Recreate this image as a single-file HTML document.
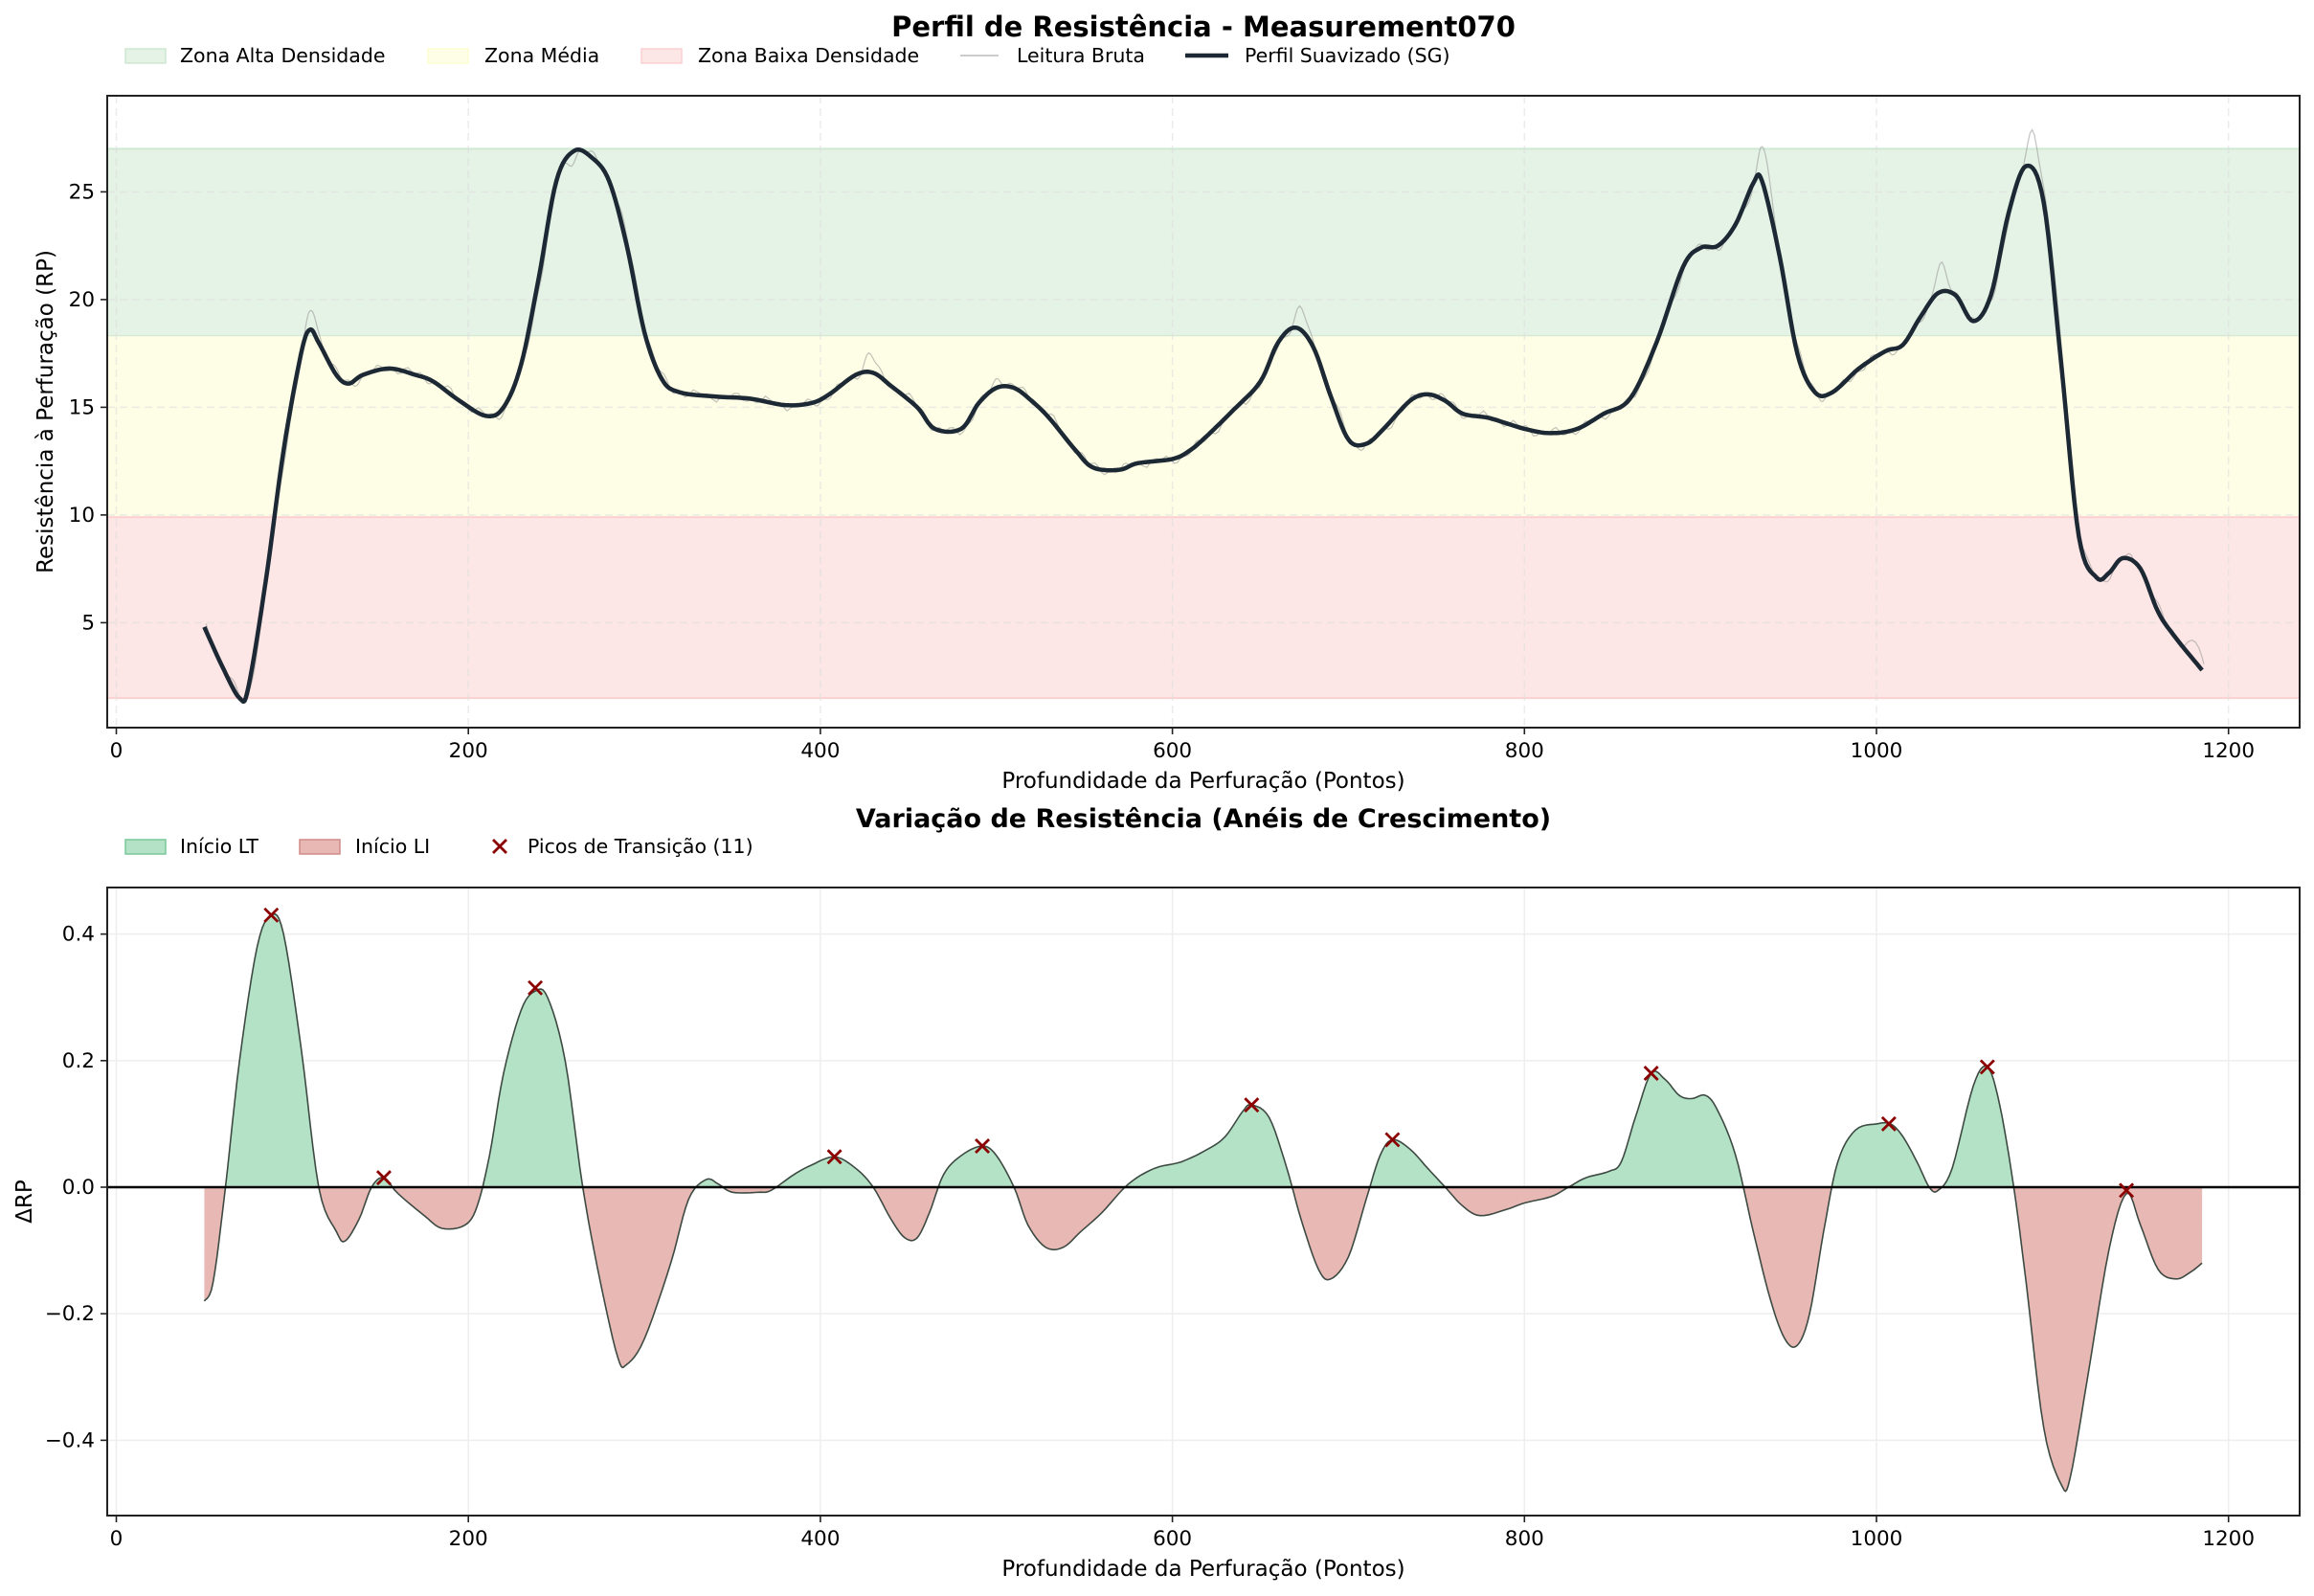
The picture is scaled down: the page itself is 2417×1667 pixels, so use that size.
<!DOCTYPE html>
<html><head><meta charset="utf-8"><style>
html,body{margin:0;padding:0;background:#fff}
svg{display:block;font-family:"DejaVu Sans","Liberation Sans",sans-serif}
</style></head><body>
<svg id="s" width="2417" height="1667" viewBox="0 0 2417 1667" xmlns="http://www.w3.org/2000/svg">
<defs>
<clipPath id="ctop"><rect x="112" y="100" width="2290" height="660"/></clipPath>
<clipPath id="cpos"><rect x="112" y="927" width="2290" height="313"/></clipPath>
<clipPath id="cneg"><rect x="112" y="1240" width="2290" height="343"/></clipPath>
</defs>
<g id="g"></g>
</svg>
<script>
var g=document.getElementById('g');
function X(v){return 121.5+v*1.8385;}
function YT(v){return 200.4+(25-v)*22.5;}
function YB(v){return 1240-v*660.9;}
var h='';
h+='<rect x="112" y="'+YT(27)+'" width="2290" height="'+(YT(18.3)-YT(27))+'" fill="#e5f2e6" stroke="#cfe8d2" stroke-width="2"/>';
h+='<rect x="112" y="'+YT(18.3)+'" width="2290" height="'+(YT(9.9)-YT(18.3))+'" fill="#fefee6"/>';
h+='<rect x="112" y="'+YT(9.9)+'" width="2290" height="'+(YT(1.5)-YT(9.9))+'" fill="#fde6e6" stroke="#fbd0d0" stroke-width="2"/>';
var xt=[0,200,400,600,800,1000,1200];
xt.forEach(function(t){h+='<line x1="'+X(t)+'" x2="'+X(t)+'" y1="100" y2="760" stroke="#ddd" stroke-opacity="0.6" stroke-dasharray="8,5" stroke-width="1.5"/>';});
[5,10,15,20,25].forEach(function(t){h+='<line x1="112" x2="2402" y1="'+YT(t)+'" y2="'+YT(t)+'" stroke="#ddd" stroke-opacity="0.6" stroke-dasharray="8,5" stroke-width="1.5"/>';});
xt.forEach(function(t){h+='<line x1="'+X(t)+'" x2="'+X(t)+'" y1="927" y2="1583" stroke="#eee" stroke-width="1.5"/>';});
[-0.4,-0.2,0.2,0.4].forEach(function(t){h+='<line x1="112" x2="2402" y1="'+YB(t)+'" y2="'+YB(t)+'" stroke="#eee" stroke-width="1.5"/>';});

function interp(P,step){var out=[];for(var i=0;i<P.length-1;i++){var p0=P[Math.max(0,i-1)],p1=P[i],p2=P[i+1],p3=P[Math.min(P.length-1,i+2)];
 for(var k=0;k<step;k++){var t=k/step,t2=t*t,t3=t2*t;
 var x=0.5*((2*p1[0])+(-p0[0]+p2[0])*t+(2*p0[0]-5*p1[0]+4*p2[0]-p3[0])*t2+(-p0[0]+3*p1[0]-3*p2[0]+p3[0])*t3);
 var y=0.5*((2*p1[1])+(-p0[1]+p2[1])*t+(2*p0[1]-5*p1[1]+4*p2[1]-p3[1])*t2+(-p0[1]+3*p1[1]-3*p2[1]+p3[1])*t3);
 out.push([x,y]);}}out.push(P[P.length-1]);return out;}

var T=[[50,4.8],[60,3],[70,1.5],[75,2],[85,7],[95,13],[105,17.5],[110,18.6],[115,18],[125,16.5],[132,16.1],[140,16.5],[155,16.8],[170,16.5],[180,16.2],[195,15.3],[210,14.6],[220,15],[230,17],[240,21],[250,25.5],[260,26.9],[270,26.6],[280,25.5],[290,22.5],[300,18.5],[310,16.3],[320,15.7],[340,15.5],[360,15.4],[380,15.1],[395,15.2],[405,15.6],[420,16.5],[430,16.6],[440,16],[455,15],[465,14],[480,14],[490,15.2],[500,15.9],[510,15.9],[520,15.3],[530,14.5],[545,13],[555,12.2],[570,12.1],[580,12.4],[600,12.6],[610,13],[620,13.7],[635,14.9],[650,16.2],[660,18],[670,18.7],[680,17.8],[690,15.5],[700,13.5],[710,13.3],[720,14],[735,15.3],[745,15.6],[755,15.3],[765,14.7],[780,14.5],[800,14],[815,13.8],[830,14],[845,14.7],[860,15.4],[875,18],[890,21.5],[900,22.4],[910,22.5],[920,23.5],[930,25.4],[935,25.5],[945,22],[955,17.5],[965,15.7],[975,15.7],[990,16.8],[1005,17.6],[1015,17.9],[1025,19.2],[1035,20.3],[1045,20.2],[1055,19],[1065,20.2],[1075,24],[1085,26.2],[1095,24.5],[1105,17],[1115,9],[1125,7.1],[1132,7.3],[1140,8],[1150,7.5],[1160,5.5],[1170,4.3],[1185,2.8]];
var st=interp(T,8);
var bumps=[[110,0.9],[427,0.8],[500,0.5],[672,0.9],[935,1.5],[1035,1.3],[1088,1.8],[258,-0.3],[1180,0.8]];
var sm='',raw='';
st.forEach(function(p,i){sm+=(i?'L':'M')+X(p[0]).toFixed(1)+','+YT(p[1]).toFixed(1);
 var n=0.15*Math.sin(p[0]*0.31)+0.12*Math.sin(p[0]*0.77+1);
 bumps.forEach(function(b){var d=(p[0]-b[0])/4;n+=b[1]*Math.exp(-d*d);});
 raw+=(i?'L':'M')+X(p[0]+1).toFixed(1)+','+YT(p[1]+n).toFixed(1);});
h+='<path d="'+raw+'" fill="none" stroke="#999" stroke-opacity="0.6" stroke-width="1.2" clip-path="url(#ctop)"/>';
h+='<path d="'+sm+'" fill="none" stroke="#1c2833" stroke-width="4.5" stroke-linejoin="round"/>';

var B=[[50,-0.18],[55,-0.15],[62,0],[70,0.2],[80,0.38],[88,0.43],[95,0.4],[105,0.22],[115,0],[125,-0.07],[130,-0.085],[138,-0.05],[145,0],[152,0.015],[160,-0.01],[175,-0.045],[185,-0.065],[198,-0.06],[205,-0.03],[212,0.05],[220,0.18],[230,0.28],[238,0.31],[245,0.3],[255,0.2],[265,0],[275,-0.15],[285,-0.27],[290,-0.28],[300,-0.24],[315,-0.12],[325,-0.02],[335,0.012],[342,0.005],[350,-0.008],[365,-0.008],[372,-0.005],[385,0.02],[395,0.035],[408,0.048],[420,0.03],[430,0],[440,-0.05],[448,-0.08],[455,-0.08],[462,-0.04],[470,0.02],[480,0.05],[492,0.065],[500,0.05],[510,0],[518,-0.06],[528,-0.095],[538,-0.095],[548,-0.07],[560,-0.04],[575,0.005],[590,0.03],[605,0.04],[620,0.06],[630,0.08],[640,0.12],[645,0.13],[655,0.11],[665,0.03],[673,-0.05],[683,-0.13],[690,-0.145],[700,-0.11],[710,-0.02],[718,0.05],[725,0.075],[735,0.06],[745,0.03],[755,0],[765,-0.03],[775,-0.045],[790,-0.035],[800,-0.025],[815,-0.015],[825,0],[835,0.015],[848,0.025],[855,0.04],[863,0.11],[872,0.18],[880,0.17],[888,0.145],[895,0.14],[903,0.145],[910,0.12],[920,0.05],[930,-0.07],[940,-0.18],[948,-0.24],[955,-0.25],[962,-0.2],[970,-0.07],[978,0.04],[988,0.09],[1000,0.1],[1008,0.1],[1015,0.08],[1023,0.04],[1030,0],[1035,-0.005],[1043,0.03],[1055,0.16],[1063,0.19],[1070,0.13],[1078,0],[1085,-0.15],[1095,-0.38],[1105,-0.47],[1110,-0.46],[1120,-0.3],[1132,-0.1],[1142,-0.01],[1150,-0.06],[1160,-0.13],[1170,-0.145],[1178,-0.135],[1185,-0.12]];
var bt=interp(B,6);
var ln='';bt.forEach(function(p,i){ln+=(i?'L':'M')+X(p[0]).toFixed(1)+','+YB(p[1]).toFixed(1);});
var area=ln+'L'+X(1185)+',1240L'+X(50)+',1240Z';
h+='<path d="'+area+'" fill="#b3e2c6" clip-path="url(#cpos)"/>';
h+='<path d="'+area+'" fill="#e8b8b5" clip-path="url(#cneg)"/>';
h+='<path d="'+ln+'" fill="none" stroke="#3d4a42" stroke-width="1.6"/>';
h+='<line x1="112" x2="2402" y1="1240" y2="1240" stroke="#000" stroke-width="2.5"/>';
[[88,.43],[152,.015],[238,.315],[408,.048],[492,.065],[645,.13],[725,.075],[872,.18],[1007,.1],[1063,.19],[1142,-0.005]].forEach(function(p){
 var x=X(p[0]),y=YB(p[1]);h+='<path d="M'+(x-7)+','+(y-7)+'L'+(x+7)+','+(y+7)+'M'+(x-7)+','+(y+7)+'L'+(x+7)+','+(y-7)+'" stroke="#8b0000" stroke-width="2.8"/>';});

function frame(t,b){h+='<rect x="112" y="'+t+'" width="2290" height="'+(b-t)+'" fill="none" stroke="#222" stroke-width="2"/>';
 xt.forEach(function(v){h+='<line x1="'+X(v)+'" x2="'+X(v)+'" y1="'+b+'" y2="'+(b+7)+'" stroke="#222" stroke-width="1.6"/><text x="'+X(v)+'" y="'+(b+31)+'" font-size="21.5" text-anchor="middle">'+v+'</text>';});
 h+='<text x="1257" y="'+(b+63)+'" font-size="23" text-anchor="middle">Profundidade da Perfuração (Pontos)</text>';}
frame(100,760);frame(927,1583);
[5,10,15,20,25].forEach(function(v){h+='<line x1="105" x2="112" y1="'+YT(v)+'" y2="'+YT(v)+'" stroke="#222" stroke-width="1.6"/><text x="99" y="'+(YT(v)+7)+'" font-size="21.5" text-anchor="end">'+v+'</text>';});
[[-0.4,'−0.4'],[-0.2,'−0.2'],[0,'0.0'],[0.2,'0.2'],[0.4,'0.4']].forEach(function(v){h+='<line x1="105" x2="112" y1="'+YB(v[0])+'" y2="'+YB(v[0])+'" stroke="#222" stroke-width="1.6"/><text x="99" y="'+(YB(v[0])+7)+'" font-size="21.5" text-anchor="end">'+v[1]+'</text>';});
h+='<text transform="translate(55,430) rotate(-90)" font-size="23" text-anchor="middle">Resistência à Perfuração (RP)</text>';
h+='<text transform="translate(33,1255) rotate(-90)" font-size="23" text-anchor="middle">ΔRP</text>';
h+='<text x="1257" y="38" font-size="29" font-weight="bold" text-anchor="middle">Perfil de Resistência - Measurement070</text>';
h+='<text x="1257" y="864" font-size="27" font-weight="bold" text-anchor="middle">Variação de Resistência (Anéis de Crescimento)</text>';
var ly=58;
function patch(x,y,f,s){h+='<rect x="'+x+'" y="'+(y-7)+'" width="42" height="15" fill="'+f+'" stroke="'+s+'" stroke-width="1.5"/>';}
function lt(x,y,t){h+='<text x="'+x+'" y="'+(y+7)+'" font-size="20.5">'+t+'</text>';}
patch(131,ly,'#e5f2e6','#cfe8d2');lt(188,ly,'Zona Alta Densidade');
patch(447,ly,'#fefee6','#fdfdd0');lt(506,ly,'Zona Média');
patch(670,ly,'#fde6e6','#fbd0d0');lt(729,ly,'Zona Baixa Densidade');
h+='<line x1="1003" x2="1043" y1="'+ly+'" y2="'+ly+'" stroke="#bbb" stroke-width="1.5"/>';lt(1062,ly,'Leitura Bruta');
h+='<line x1="1238" x2="1283" y1="'+ly+'" y2="'+ly+'" stroke="#1c2833" stroke-width="4.5"/>';lt(1300,ly,'Perfil Suavizado (SG)');
var by=884;
patch(131,by,'#b3e2c6','#7cc79c');lt(188,by,'Início LT');
patch(313,by,'#e8b8b5','#d08a87');lt(371,by,'Início LI');
var mx=522;h+='<path d="M'+(mx-7)+','+(by-7)+'L'+(mx+7)+','+(by+7)+'M'+(mx-7)+','+(by+7)+'L'+(mx+7)+','+(by-7)+'" stroke="#8b0000" stroke-width="2.8"/>';
lt(551,by,'Picos de Transição (11)');
g.innerHTML=h;
</script>
</body></html>
